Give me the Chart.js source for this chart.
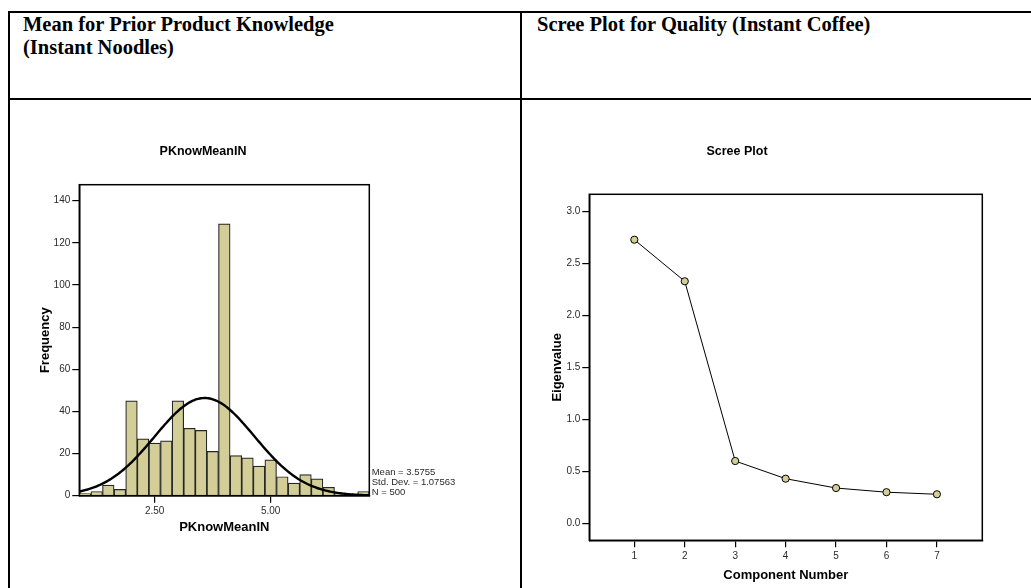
<!DOCTYPE html>
<html>
<head>
<meta charset="utf-8">
<script src="https://cdn.jsdelivr.net/npm/chart.js@4.4.1/dist/chart.umd.min.js"></script>
<style>
  html, body { margin: 0; padding: 0; background: #fff; width: 1031px; height: 588px; overflow: hidden; }
  .rule { position: absolute; background: #000; }
  .head { position: absolute; font: bold 20.5px "Liberation Serif", "Times New Roman", serif; line-height: 23px; color: #000; white-space: nowrap; }
  .cell { position: absolute; }
  canvas { display: block; }
</style>
</head>
<body>
<!-- table rules -->
<div class="rule" style="left:8px;top:11px;width:1030px;height:2px"></div>
<div class="rule" style="left:8px;top:98px;width:1030px;height:2px"></div>
<div class="rule" style="left:8px;top:11px;width:2px;height:590px"></div>
<div class="rule" style="left:520px;top:11px;width:2px;height:590px"></div>

<div class="head" style="left:23px;top:13px">Mean for Prior Product Knowledge<br>(Instant Noodles)</div>
<div class="head" style="left:537px;top:13px">Scree Plot for Quality (Instant Coffee)</div>

<div class="cell" style="left:10px;top:100px"><canvas id="hist" width="510" height="488"></canvas></div>
<div class="cell" style="left:522px;top:100px"><canvas id="scree" width="509" height="488"></canvas></div>

<script>
// ---- Histogram: PKnowMeanIN ----
const binCenters = [1.00, 1.25, 1.50, 1.75, 2.00, 2.25, 2.50, 2.75, 3.00, 3.25, 3.50, 3.75, 4.00,
                    4.25, 4.50, 4.75, 5.00, 5.25, 5.50, 5.75, 6.00, 6.25, 6.50, 6.75, 7.00];
const frequencies = [1, 2, 5, 3, 45, 27, 25, 26, 45, 32, 31, 21, 129,
                     19, 18, 14, 17, 9, 6, 10, 8, 4, 1, 0, 2];
const binWidth = 0.25;
const histXTicks = [2.5, 5.0];
const histYTicks = [0, 20, 40, 60, 80, 100, 120, 140];
const meanValue = 3.5755;
const stdDev = 1.07563;

// ---- Scree plot ----
const components = [1, 2, 3, 4, 5, 6, 7];
const eigenvalues = [2.73, 2.33, 0.60, 0.43, 0.34, 0.30, 0.28];
const screeYTicks = [0.0, 0.5, 1.0, 1.5, 2.0, 2.5, 3.0];

const N = frequencies.reduce((a, b) => a + b, 0);

// fitted normal curve scaled to the histogram counts
const normalCurve = [];
for (let x = 0.875; x <= 7.1251; x += 0.03125) {
  const z = (x - meanValue) / stdDev;
  normalCurve.push({ x: x, y: N * binWidth * Math.exp(-0.5 * z * z) / (stdDev * Math.sqrt(2 * Math.PI)) });
}

const SANS = '"Liberation Sans", Arial, Helvetica, sans-serif';
const tickFont = { family: SANS, size: 10 };
const titleFont = { family: SANS, size: 13, weight: 'bold' };
const INK = '#2b2b2b';
const BAR_FILL = '#D3CE97';

// outline around the plotting area
const framePlugin = {
  id: 'frame',
  afterDatasetsDraw(chart) {
    const a = chart.chartArea, ctx = chart.ctx;
    ctx.save();
    ctx.strokeStyle = '#000';
    ctx.lineWidth = 1.5;
    ctx.strokeRect(a.left, a.top, a.right - a.left, a.bottom - a.top);
    ctx.restore();
  }
};

// free text items (chart title, summary statistics)
const textPlugin = {
  id: 'texts',
  afterDraw(chart, args, opts) {
    const ctx = chart.ctx;
    ctx.save();
    (opts.items || []).forEach(it => {
      ctx.font = it.font;
      ctx.fillStyle = it.color || '#000';
      ctx.textAlign = it.align || 'left';
      ctx.textBaseline = 'middle';
      ctx.fillText(it.text, it.x, it.y);
    });
    ctx.restore();
  }
};

function axisCommon() {
  return {
    grid: { display: true, drawOnChartArea: false, drawTicks: true, tickLength: 7, color: '#000', lineWidth: 1.2, offset: false },
    border: { display: true, color: '#000', width: 1.5 }
  };
}

new Chart(document.getElementById('hist'), {
  type: 'bar',
  data: {
    datasets: [
      {
        type: 'line',
        data: normalCurve,
        borderColor: '#000',
        borderWidth: 2.4,
        pointRadius: 0,
        tension: 0,
        order: 0
      },
      {
        type: 'bar',
        data: binCenters.map((x, i) => ({ x: x, y: frequencies[i] })),
        backgroundColor: BAR_FILL,
        borderColor: '#262626',
        borderWidth: 1.2,
        barPercentage: 1,
        categoryPercentage: 1,
        order: 1
      }
    ]
  },
  options: {
    responsive: false,
    animation: false,
    events: [],
    layout: { padding: { left: 23.2, top: 84.7, right: 150.7, bottom: 49.2 } },
    plugins: {
      legend: { display: false },
      tooltip: { enabled: false },
      texts: {
        items: [
          { text: 'PKnowMeanIN', x: 193, y: 52, font: 'bold 12.5px ' + SANS, align: 'center' },
          { text: 'Mean = ' + meanValue.toFixed(4), x: 361.7, y: 372.3, font: '9.5px ' + SANS, color: INK },
          { text: 'Std. Dev. = ' + stdDev.toFixed(5), x: 361.7, y: 382.3, font: '9.5px ' + SANS, color: INK },
          { text: 'N = ' + N, x: 361.7, y: 392.3, font: '9.5px ' + SANS, color: INK }
        ]
      }
    },
    scales: {
      x: Object.assign(axisCommon(), {
        type: 'linear',
        min: 0.875,
        max: 7.125,
        offset: false,
        afterBuildTicks: s => { s.ticks = histXTicks.map(v => ({ value: v })); },
        afterFit: s => { s.height = 43.1; },
        ticks: { font: tickFont, color: INK, padding: 3, maxRotation: 0, autoSkip: false, callback: v => Number(v).toFixed(2) },
        title: { display: true, text: 'PKnowMeanIN', font: titleFont, color: '#000', padding: { top: 4, bottom: 4 } }
      }),
      y: Object.assign(axisCommon(), {
        min: 0,
        max: 147.6,
        afterBuildTicks: s => { s.ticks = histYTicks.map(v => ({ value: v })); },
        afterFit: s => { s.width = 46.1; },
        ticks: { font: tickFont, color: INK, padding: 2, callback: v => String(v) },
        title: { display: true, text: 'Frequency', font: titleFont, color: '#000', padding: { top: 4, bottom: 4 } }
      })
    }
  },
  plugins: [framePlugin, textPlugin]
});

new Chart(document.getElementById('scree'), {
  type: 'line',
  data: {
    datasets: [{
      data: components.map((c, i) => ({ x: c, y: eigenvalues[i] })),
      borderColor: '#000',
      borderWidth: 1,
      pointRadius: 3.6,
      pointBackgroundColor: BAR_FILL,
      pointBorderColor: '#000',
      pointBorderWidth: 1,
      tension: 0
    }]
  },
  options: {
    responsive: false,
    animation: false,
    events: [],
    layout: { padding: { left: 23.2, top: 94.3, right: 48.7, bottom: 1.2 } },
    plugins: {
      legend: { display: false },
      tooltip: { enabled: false },
      texts: {
        items: [
          { text: 'Scree Plot', x: 215, y: 52, font: 'bold 12.5px ' + SANS, align: 'center' }
        ]
      }
    },
    scales: {
      x: Object.assign(axisCommon(), {
        type: 'linear',
        min: 0.107,
        max: 7.9,
        afterBuildTicks: s => { s.ticks = components.map(v => ({ value: v })); },
        afterFit: s => { s.height = 46.5; },
        ticks: { font: tickFont, color: INK, padding: 3, maxRotation: 0, autoSkip: false, callback: v => String(v) },
        title: { display: true, text: 'Component Number', font: titleFont, color: '#000', padding: { top: 4, bottom: 4 } }
      }),
      y: Object.assign(axisCommon(), {
        min: -0.163,
        max: 3.167,
        afterBuildTicks: s => { s.ticks = screeYTicks.map(v => ({ value: v })); },
        afterFit: s => { s.width = 44.1; },
        ticks: { font: tickFont, color: INK, padding: 2, callback: v => Number(v).toFixed(1) },
        title: { display: true, text: 'Eigenvalue', font: titleFont, color: '#000', padding: { top: 4, bottom: 4 } }
      })
    }
  },
  plugins: [framePlugin, textPlugin]
});
</script>
</body>
</html>
